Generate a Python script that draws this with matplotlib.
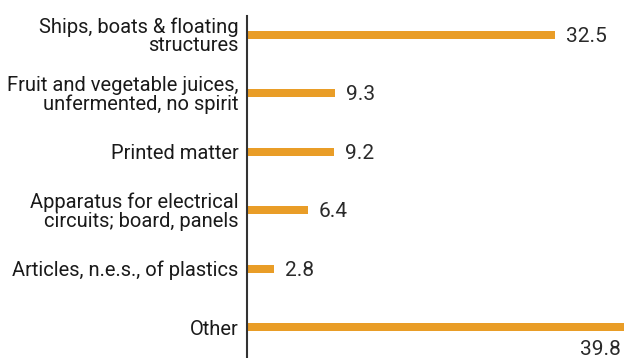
import matplotlib
matplotlib.use("Agg")
import matplotlib.pyplot as plt

categories = [
    "Ships, boats & floating\nstructures",
    "Fruit and vegetable juices,\nunfermented, no spirit",
    "Printed matter",
    "Apparatus for electrical\ncircuits; board, panels",
    "Articles, n.e.s., of plastics",
    "Other",
]
values = [32.5, 9.3, 9.2, 6.4, 2.8, 39.8]
value_labels = ["32.5", "9.3", "9.2", "6.4", "2.8", "39.8"]

bar_color = "#E99D27"
label_font = ["Roboto", "DejaVu Sans"]
num_font = ["Roboto", "DejaVu Sans"]

fig = plt.figure(figsize=(6.24, 3.58), dpi=100)
ax = fig.add_axes([247 / 624, 0.0, 1 - 247 / 624, 1 - 16 / 358])

ypos = list(range(len(categories)))
ax.barh(ypos, values, height=0.137, color=bar_color)
ax.set_xlim(0, max(values))
ax.set_ylim(5.53, -0.325)

ax.set_yticks(ypos)
ax.set_yticklabels(categories, fontsize=14.5, family=label_font, color="#1a1a1a",
                   linespacing=0.95)
ax.tick_params(axis="y", length=0, pad=6)
ax.set_xticks([])

for s in ["top", "right", "bottom"]:
    ax.spines[s].set_visible(False)
ax.spines["left"].set_linewidth(1.5)
ax.spines["left"].set_color("#333333")

for i, (v, lab) in enumerate(zip(values, value_labels)):
    if i == len(values) - 1:
        ax.annotate(lab, (v, i), xytext=(-2, -9), textcoords="offset points",
                    ha="right", va="top", fontsize=15, family=num_font,
                    color="#2a2a2a")
    else:
        ax.annotate(lab, (v, i), xytext=(8, -1), textcoords="offset points",
                    ha="left", va="center", fontsize=15, family=num_font,
                    color="#2a2a2a")

fig.savefig("out.png", dpi=100)
